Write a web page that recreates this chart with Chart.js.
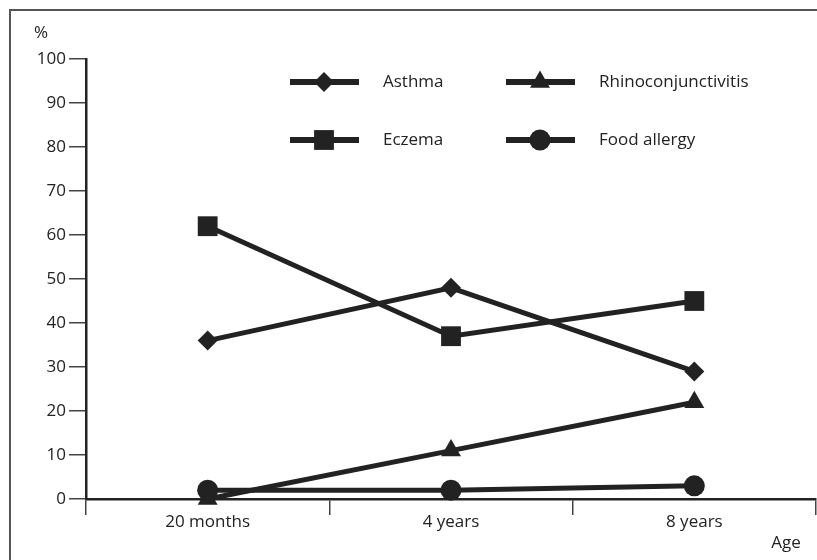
<!DOCTYPE html>
<html>
<head>
<meta charset="utf-8">
<script src="https://cdn.jsdelivr.net/npm/chart.js@4.4.0/dist/chart.umd.min.js"></script>
<style>
    html, body { margin: 0; padding: 0; background: #fff; overflow: hidden; }
    #frame {
        position: absolute; left: 9px; top: 9px; width: 820px; height: 560px;
        border-left: 2px solid #555; border-top: 2px solid #555;
    }
    #chart { position: absolute; left: 0; top: 0; }
</style>
</head>
<body>
<div id="frame"></div>
<canvas id="chart" width="830" height="560"></canvas>
<script>
// Dữ liệu
const ageLabels = ['20 months', '4 years', '8 years'];
const asthma = [36, 48, 29];
const eczema = [62, 37, 45];
const rhino = [0, 11, 22];
const foodAllergy = [2, 2, 3];
const yTicks = [0, 10, 20, 30, 40, 50, 60, 70, 80, 90, 100];

const INK = '#222';
const FONT = '"Open Sans", "DejaVu Sans", sans-serif';

function series(label, data, style, radius) {
    return {
        label, data,
        borderColor: INK, backgroundColor: INK,
        borderWidth: 5, tension: 0,
        pointStyle: style, pointRadius: radius, pointHoverRadius: radius,
        pointBorderWidth: 0, clip: false
    };
}

// Chú thích vẽ tay: đoạn thẳng + ký hiệu + chữ
const legendPlugin = {
    id: 'customLegend',
    afterDraw(chart) {
        const ctx = chart.ctx;
        const items = [
            { ds: 0, x: 290, y: 82 },
            { ds: 2, x: 506, y: 82 },
            { ds: 1, x: 290, y: 140 },
            { ds: 3, x: 506, y: 140 }
        ];
        ctx.save();
        items.forEach(it => {
            const ds = chart.data.datasets[it.ds];
            ctx.strokeStyle = INK;
            ctx.lineWidth = 6;
            ctx.beginPath();
            ctx.moveTo(it.x, it.y);
            ctx.lineTo(it.x + 69, it.y);
            ctx.stroke();
            ctx.fillStyle = INK;
            Chart.helpers.drawPoint(ctx, {
                pointStyle: ds.pointStyle, radius: ds.pointRadius, borderWidth: 0, rotation: 0
            }, it.x + 34, it.y);
            ctx.fillStyle = INK;
            ctx.font = '17px ' + FONT;
            ctx.textBaseline = 'middle';
            ctx.textAlign = 'left';
            ctx.fillText(ds.label, it.x + 93, it.y);
        });
        // Nhãn trục
        ctx.font = '17px ' + FONT;
        ctx.textAlign = 'center';
        ctx.fillText('%', 41, 33);
        ctx.fillText('Age', 786, 543);
        ctx.restore();
    }
};

new Chart(document.getElementById('chart').getContext('2d'), {
    type: 'line',
    data: {
        labels: ageLabels,
        datasets: [
            series('Asthma', asthma, 'rectRot', 10),
            series('Eczema', eczema, 'rect', 14),
            series('Rhinoconjunctivitis', rhino, 'triangle', 11.5),
            series('Food allergy', foodAllergy, 'circle', 10.5)
        ]
    },
    options: {
        responsive: false,
        animation: false,
        layout: { padding: { top: 59, left: 0, right: 11, bottom: 0 } },
        plugins: { legend: { display: false }, tooltip: { enabled: false } },
        scales: {
            x: {
                offset: true,
                grid: { offset: true, drawOnChartArea: false, tickLength: 16, color: '#444', lineWidth: 1.5 },
                border: { color: INK, width: 2.5 },
                ticks: { color: INK, padding: -3, font: { family: FONT, size: 17 } },
                afterFit: scale => { scale.height = 61; }
            },
            y: {
                min: 0, max: 100,
                afterBuildTicks: scale => { scale.ticks = yTicks.map(v => ({ value: v })); },
                grid: { drawOnChartArea: false, tickLength: 17, color: '#444', lineWidth: 1.5 },
                border: { color: INK, width: 2.5 },
                ticks: { color: INK, padding: 3, font: { family: FONT, size: 17 } },
                afterFit: scale => { scale.width = 86; }
            }
        }
    },
    plugins: [legendPlugin]
});
</script>
</body>
</html>
